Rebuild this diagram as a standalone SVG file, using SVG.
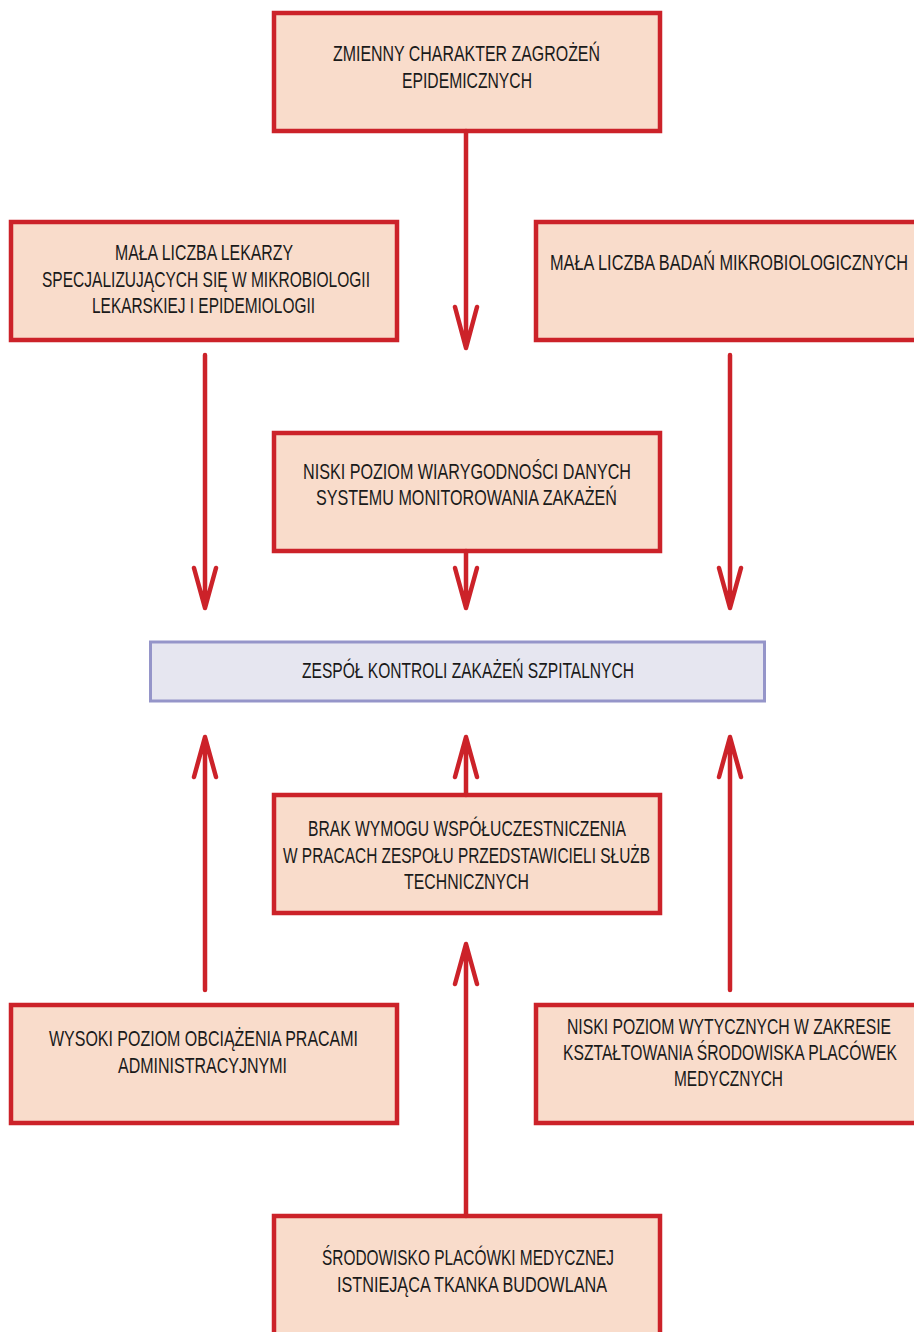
<svg xmlns="http://www.w3.org/2000/svg" width="914" height="1332" viewBox="0 0 914 1332">
<style>
.box{fill:#f9dccb;stroke:#cc2229;stroke-width:4.5}
.main{fill:#e6e6f0;stroke:#9595c9;stroke-width:3}
.t{font-family:"Liberation Sans",Arial,sans-serif;font-size:22px;fill:#1a1a1a}
.ln{stroke:#cc2229;stroke-width:4.5;fill:none;stroke-linecap:round;stroke-linejoin:round}
</style>
<rect width="914" height="1332" fill="#fff"/>
<g id="n1"><rect class="box" x="274" y="13" width="386" height="118"/>
<text class="t" x="333" y="61" textLength="267" lengthAdjust="spacingAndGlyphs">ZMIENNY CHARAKTER ZAGROŻEŃ</text>
<text class="t" x="402" y="88" textLength="130" lengthAdjust="spacingAndGlyphs">EPIDEMICZNYCH</text></g>
<g id="n2"><rect class="box" x="11" y="222" width="386" height="118"/>
<text class="t" x="115" y="260" textLength="178" lengthAdjust="spacingAndGlyphs">MAŁA LICZBA LEKARZY</text>
<text class="t" x="42" y="287" textLength="328" lengthAdjust="spacingAndGlyphs">SPECJALIZUJĄCYCH SIĘ W MIKROBIOLOGII</text>
<text class="t" x="92" y="313" textLength="223" lengthAdjust="spacingAndGlyphs">LEKARSKIEJ I EPIDEMIOLOGII</text></g>
<g id="n3"><rect class="box" x="536" y="222" width="390" height="118"/>
<text class="t" x="550" y="270" textLength="358" lengthAdjust="spacingAndGlyphs">MAŁA LICZBA BADAŃ MIKROBIOLOGICZNYCH</text></g>
<g id="n4"><rect class="box" x="274" y="433" width="386" height="118"/>
<text class="t" x="303" y="479" textLength="328" lengthAdjust="spacingAndGlyphs">NISKI POZIOM WIARYGODNOŚCI DANYCH</text>
<text class="t" x="316" y="505" textLength="301" lengthAdjust="spacingAndGlyphs">SYSTEMU MONITOROWANIA ZAKAŻEŃ</text></g>
<g id="n5"><rect class="main" x="150.5" y="642" width="614" height="59"/>
<text class="t" x="302" y="678" textLength="332" lengthAdjust="spacingAndGlyphs">ZESPÓŁ KONTROLI ZAKAŻEŃ SZPITALNYCH</text></g>
<g id="n6"><rect class="box" x="274" y="795" width="386" height="118"/>
<text class="t" x="308" y="836" textLength="318" lengthAdjust="spacingAndGlyphs">BRAK WYMOGU WSPÓŁUCZESTNICZENIA</text>
<text class="t" x="283" y="863" textLength="367" lengthAdjust="spacingAndGlyphs">W PRACACH ZESPOŁU PRZEDSTAWICIELI SŁUŻB</text>
<text class="t" x="404" y="889" textLength="125" lengthAdjust="spacingAndGlyphs">TECHNICZNYCH</text></g>
<g id="n7"><rect class="box" x="11" y="1005" width="386" height="118"/>
<text class="t" x="49" y="1046" textLength="309" lengthAdjust="spacingAndGlyphs">WYSOKI POZIOM OBCIĄŻENIA PRACAMI</text>
<text class="t" x="118" y="1073" textLength="169" lengthAdjust="spacingAndGlyphs">ADMINISTRACYJNYMI</text></g>
<g id="n8"><rect class="box" x="536" y="1005" width="390" height="118"/>
<text class="t" x="567" y="1034" textLength="324" lengthAdjust="spacingAndGlyphs">NISKI POZIOM WYTYCZNYCH W ZAKRESIE</text>
<text class="t" x="563" y="1060" textLength="334" lengthAdjust="spacingAndGlyphs">KSZTAŁTOWANIA ŚRODOWISKA PLACÓWEK</text>
<text class="t" x="674" y="1086" textLength="109" lengthAdjust="spacingAndGlyphs">MEDYCZNYCH</text></g>
<g id="n9"><rect class="box" x="274" y="1216" width="386" height="130"/>
<text class="t" x="322" y="1265" textLength="292" lengthAdjust="spacingAndGlyphs">ŚRODOWISKO PLACÓWKI MEDYCZNEJ</text>
<text class="t" x="337" y="1292" textLength="270" lengthAdjust="spacingAndGlyphs">ISTNIEJĄCA TKANKA BUDOWLANA</text></g>
<g id="connectors">
<path class="ln" d="M466 131V348M455 307L466 348L477 307"/>
<path class="ln" d="M205 355V608M194 568L205 608L216 568"/>
<path class="ln" d="M466 551V608M455 568L466 608L477 568"/>
<path class="ln" d="M730 355V608M719 568L730 608L741 568"/>
<path class="ln" d="M205 990V737M194 777L205 737L216 777"/>
<path class="ln" d="M466 795V737M455 777L466 737L477 777"/>
<path class="ln" d="M730 990V737M719 777L730 737L741 777"/>
<path class="ln" d="M466 1216V944M455 984L466 944L477 984"/>
</g>
</svg>
